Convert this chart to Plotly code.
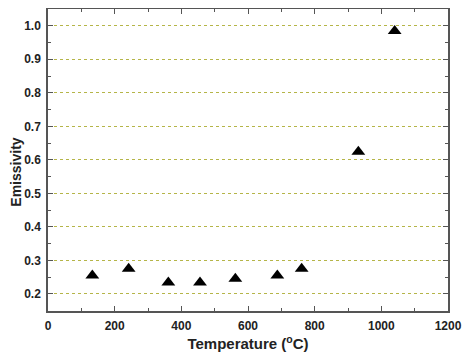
import plotly.graph_objects as go

temperature = [133, 242, 361, 456, 562, 688, 761, 931, 1040]
emissivity = [0.255, 0.275, 0.234, 0.234, 0.245, 0.255, 0.275, 0.624, 0.984]

x_ticks = [0, 200, 400, 600, 800, 1000, 1200]
y_ticks = [0.2, 0.3, 0.4, 0.5, 0.6, 0.7, 0.8, 0.9, 1.0]

fig = go.Figure()
fig.add_trace(go.Scatter(
    x=temperature, y=emissivity, mode="markers",
    marker=dict(symbol="triangle-up", size=12, color="black"),
    showlegend=False,
))

font_fam = "Liberation Sans, Arial, sans-serif"
# page body adds an 8px offset, so the figure is sized 8px smaller
fig.update_layout(
    width=466, height=352,
    margin=dict(l=40, r=26, t=1, b=49),
    paper_bgcolor="white", plot_bgcolor="white",
    font=dict(family=font_fam, color="#222"),
)
fig.update_xaxes(
    automargin=False,
    range=[0, 1200], tickvals=x_ticks, ticktext=[str(v) for v in x_ticks],
    showgrid=False, zeroline=False,
    showline=True, linecolor="#555", linewidth=1.5, mirror="ticks",
    ticks="inside", ticklen=5, tickcolor="#555", ticklabelstandoff=3,
    minor=dict(dtick=100, ticks="inside", ticklen=3, tickcolor="#555"),
    tickfont=dict(size=12, family=font_fam, weight="bold"),
    title=dict(text="Temperature (<sup>o</sup>C)", font=dict(size=15, weight="bold"), standoff=2),
)
fig.update_yaxes(
    automargin=False,
    range=[0.149, 1.05], tickvals=y_ticks, ticktext=[f"{v:.1f}" for v in y_ticks],
    showgrid=True, gridcolor="#b5b548", griddash="dot", gridwidth=1,
    zeroline=False,
    showline=True, linecolor="#555", linewidth=1.5, mirror="ticks",
    ticks="inside", ticklen=5, tickcolor="#555", ticklabelstandoff=3,
    minor=dict(dtick=0.05, tick0=0.15, ticks="inside", ticklen=3, tickcolor="#555", showgrid=False),
    tickfont=dict(size=12, family=font_fam, weight="bold"),
)
fig.add_annotation(
    text="Emissivity", xref="paper", yref="paper", x=-0.081, y=0.46,
    xanchor="center", yanchor="middle", textangle=-90, showarrow=False,
    font=dict(size=14, weight="bold", family=font_fam, color="#222"),
)
fig.write_html("out.html")
